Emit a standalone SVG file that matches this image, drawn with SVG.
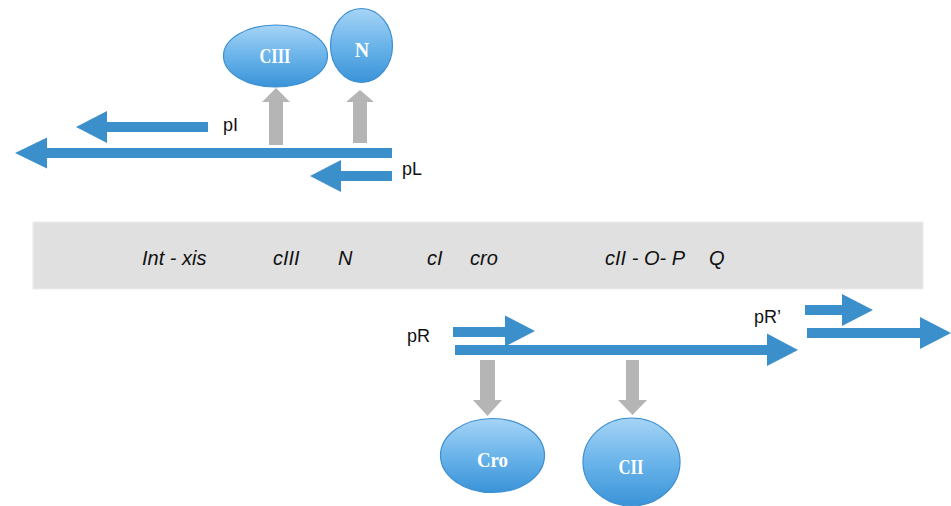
<svg xmlns="http://www.w3.org/2000/svg" width="951" height="506" viewBox="0 0 951 506">
<defs>
<linearGradient id="bub" x1="0" y1="0" x2="0" y2="1">
<stop offset="0" stop-color="#a6d4f6"/>
<stop offset="0.5" stop-color="#6ab4ea"/>
<stop offset="1" stop-color="#3a93d8"/>
</linearGradient>
<style>
.blue{fill:#3b8fcb}
.grey{fill:#b5b5b5}
.node{fill:url(#bub);stroke:#3d8fd0;stroke-width:1.2}
.nt{font-family:"Liberation Serif",serif;font-weight:bold;fill:#ffffff;text-anchor:middle;font-size:20px}
.gene{font-family:"Liberation Sans",Arial,sans-serif;font-style:italic;font-size:20px;fill:#111}
.lab{font-family:"Liberation Sans",Arial,sans-serif;font-size:18px;fill:#111}
</style>
</defs>
<rect width="951" height="506" fill="#ffffff"/>
<g id="genome">
<rect x="33" y="222" width="890" height="67" fill="#e0e0e0" stroke="#ececec" stroke-width="1"/>
<text class="gene" x="142" y="265">Int - xis</text>
<text class="gene" x="273" y="265">cIII</text>
<text class="gene" x="338" y="265">N</text>
<text class="gene" x="427" y="265">cI</text>
<text class="gene" x="470" y="265">cro</text>
<text class="gene" x="605" y="265">cII - O- P</text>
<text class="gene" x="709" y="265">Q</text>
</g>
<g id="connectors">
<polygon class="blue" points="15,153 47,137.5 47,148 392,148 392,158 47,158 47,168.5"/>
<polygon class="blue" points="76,127 107,111 107,122 208,122 208,132 107,132 107,143"/>
<polygon class="blue" points="310,176 341,160 341,171 392,171 392,181 341,181 341,192"/>
<polygon class="blue" points="453,327 505,327 505,315.5 535,331 505,346.5 505,337 453,337"/>
<polygon class="blue" points="455,345 767,345 767,333.5 798,350 767,366 767,355 455,355"/>
<polygon class="blue" points="805,305 842,305 842,294 873,310 842,326 842,315 805,315"/>
<polygon class="blue" points="807,328 920,328 920,317 951,333 920,349 920,338 807,338"/>
<polygon class="grey" points="269,145 269,102 262,102 276,88 290,102 283,102 283,145"/>
<polygon class="grey" points="353,143 353,102 346,102 360,90 374,102 367,102 367,143"/>
<polygon class="grey" points="480,360 495,360 495,400 502,400 487.5,416 473,400 480,400"/>
<polygon class="grey" points="626,360 639,360 639,400 647,400 632.5,415 618,400 626,400"/>
</g>
<g id="labels">
<text class="lab" x="223" y="131">pI</text>
<text class="lab" x="402" y="175">pL</text>
<text class="lab" x="407" y="342">pR</text>
<text class="lab" x="754" y="323">pR’</text>
</g>
<g id="CIII">
<ellipse class="node" cx="275.5" cy="56" rx="52" ry="31"/>
<text class="nt" x="275" y="63" textLength="31" lengthAdjust="spacingAndGlyphs">CIII</text>
</g>
<g id="N">
<ellipse class="node" cx="361.5" cy="45.5" rx="31" ry="37"/>
<text class="nt" x="362" y="57">N</text>
</g>
<g id="Cro">
<ellipse class="node" cx="492.5" cy="455.5" rx="52" ry="37"/>
<text class="nt" x="492.5" y="467" textLength="31" lengthAdjust="spacingAndGlyphs">Cro</text>
</g>
<g id="CII">
<ellipse class="node" cx="631.5" cy="462" rx="48.5" ry="44"/>
<text class="nt" x="631" y="474" textLength="25" lengthAdjust="spacingAndGlyphs">CII</text>
</g>
</svg>
